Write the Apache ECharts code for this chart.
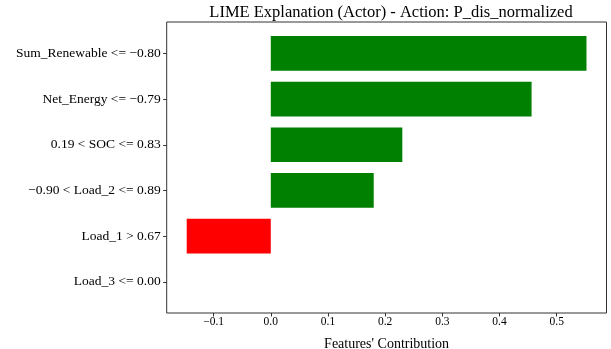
<!DOCTYPE html>
<html>
<head>
<meta charset="utf-8">
<script src="https://cdn.jsdelivr.net/npm/echarts@6/dist/echarts.min.js"></script>
<style>
  html, body { margin: 0; padding: 0; background: #fff; }
  #chart { width: 611px; height: 349px; }
</style>
</head>
<body>
<div id="chart"></div>
<script>
// LIME feature contributions for the actor's P_dis_normalized action
const categories = [
  'Sum_Renewable <= -0.80',
  'Net_Energy <= -0.79',
  '0.19 < SOC <= 0.83',
  '-0.90 < Load_2 <= 0.89',
  'Load_1 > 0.67',
  'Load_3 <= 0.00'
];
const contributions = [0.552, 0.456, 0.230, 0.180, -0.147, 0.0];
const xTicks = [-0.1, 0.0, 0.1, 0.2, 0.3, 0.4, 0.5];

const xMin = -0.182, xMax = 0.587;
const font = 'Liberation Serif, Times New Roman, serif';
const fmt = v => (v < 0 ? '\u2212' : '') + Math.abs(v).toFixed(1);

const chart = echarts.init(document.getElementById('chart'));
chart.setOption({
  animation: false,
  title: {
    text: 'LIME Explanation (Actor) - Action: P_dis_normalized',
    left: 386, top: -1, textAlign: 'center',
    textStyle: { fontFamily: font, fontSize: 16.5, fontWeight: 'normal', color: '#000' }
  },
  grid: [
    { left: 166.7, right: 4.5, top: 22, bottom: 36, show: true, outerBoundsMode: 'none',
      borderColor: '#333', borderWidth: 1, backgroundColor: 'transparent', containLabel: false },
    { left: 166.7, right: 4.5, top: 30.5, bottom: 44.3, outerBoundsMode: 'none', containLabel: false }
  ],
  xAxis: [
    { type: 'value', gridIndex: 0, min: xMin, max: xMax,
      splitLine: { show: false }, axisLine: { show: false, onZero: false },
      axisTick: { show: true, length: 3.5, customValues: xTicks, lineStyle: { color: '#333' } },
      axisLabel: { customValues: xTicks, formatter: fmt, margin: 3,
        fontFamily: font, fontSize: 11.5, color: '#000' },
      name: "Features' Contribution", nameLocation: 'middle', nameGap: 24,
      nameTextStyle: { fontFamily: font, fontSize: 14, color: '#000', verticalAlign: 'top' } },
    { type: 'value', gridIndex: 1, min: xMin, max: xMax, show: false }
  ],
  yAxis: [
    { type: 'value', gridIndex: 0, show: false, min: 0, max: 1 },
    { type: 'category', gridIndex: 1, data: categories, inverse: true,
      axisLine: { show: false, onZero: false },
      axisTick: { show: true, length: 3.5, alignWithLabel: true, inside: false,
        lineStyle: { color: '#333' } },
      axisLabel: { margin: 6, fontFamily: font, fontSize: 13.5, color: '#000',
        formatter: s => s.replace(/-/g, '\u2212') },
      splitLine: { show: false } }
  ],
  series: [{
    type: 'bar', xAxisIndex: 1, yAxisIndex: 1,
    barWidth: '76%',
    data: contributions.map(v => ({
      value: v,
      itemStyle: { color: v < 0 ? '#ff0000' : '#008000' }
    }))
  }]
});
</script>
</body>
</html>
